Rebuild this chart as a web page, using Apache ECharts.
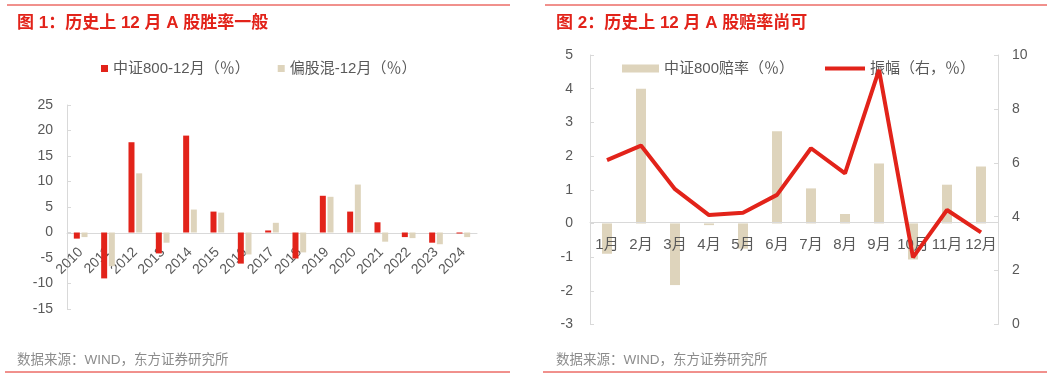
<!DOCTYPE html>
<html>
<head>
<meta charset="utf-8">
<script src="https://cdn.jsdelivr.net/npm/echarts@6/dist/echarts.min.js"></script>
<style>
  html, body { margin: 0; padding: 0; background: #fff; }
  #main { width: 1061px; height: 378px; }
</style>
</head>
<body>
<div id="main"></div>
<script>
// 图1 数据
var years = ['2010', '2011', '2012', '2013', '2014', '2015', '2016', '2017', '2018', '2019', '2020', '2021', '2022', '2023', '2024'];
var csi800Dec = [-1.2, -9.0, 17.7, -4.1, 19.0, 4.1, -6.1, 0.4, -5.1, 7.2, 4.1, 2.0, -0.9, -2.0, -0.2];
var fundDec = [-0.9, -6.6, 11.6, -2.0, 4.5, 3.9, -4.3, 1.9, -3.9, 7.0, 9.4, -1.8, -1.1, -2.3, -0.9];

// 图2 数据
var months = ['1月', '2月', '3月', '4月', '5月', '6月', '7月', '8月', '9月', '10月', '11月', '12月'];
var oddsRate = [-0.9, 4.0, -1.83, -0.05, -0.75, 2.74, 1.04, 0.28, 1.78, -1.07, 1.15, 1.69];
var amplitude = [6.1, 6.64, 5.02, 4.06, 4.15, 4.81, 6.54, 5.61, 9.45, 2.49, 4.25, 3.42];

var RED = '#e2231a';
var BEIGE = '#ded4bc';
var GRAY = '#595959';
var LINE = '#d9d9d9';
var FONT = 'Arial, "Liberation Sans", "Noto Sans CJK SC", sans-serif';

var chart = echarts.init(document.getElementById('main'));

function yAx(gridIndex, opt) {
    var o = {
        type: 'value',
        gridIndex: gridIndex,
        splitLine: { show: false },
        axisLine: { show: true, lineStyle: { color: LINE } },
        axisTick: { show: true, inside: true, length: 4, lineStyle: { color: LINE } },
        axisLabel: { color: GRAY, fontSize: 14, fontFamily: FONT }
    };
    for (var k in opt) o[k] = opt[k];
    return o;
}

// 零轴位置：grid1 底部309 -> 零线233；grid2 底部324.5 -> 零线222.7
var option = {
    animation: false,
    textStyle: { fontFamily: FONT },
    title: [
        { text: '图 1：历史上 12 月 A 股胜率一般', left: 12, top: 10,
          textStyle: { color: RED, fontSize: 17, fontWeight: 'bold', fontFamily: FONT } },
        { text: '图 2：历史上 12 月 A 股赔率尚可', left: 551, top: 10,
          textStyle: { color: RED, fontSize: 17, fontWeight: 'bold', fontFamily: FONT } },
        { text: '数据来源：WIND，东方证券研究所', left: 12, top: 349,
          textStyle: { color: '#8c8c8c', fontSize: 13.5, fontWeight: 'normal', fontFamily: FONT } },
        { text: '数据来源：WIND，东方证券研究所', left: 551, top: 349,
          textStyle: { color: '#8c8c8c', fontSize: 13.5, fontWeight: 'normal', fontFamily: FONT } }
    ],
    legend: [
        { data: ['中证800-12月（％）', '偏股混-12月（％）'], left: 96, top: 56,
          icon: 'rect', itemWidth: 7, itemHeight: 7, itemGap: 28, itemTextGap: 5,
          textStyle: { color: GRAY, fontSize: 15, fontFamily: FONT } },
        { data: ['中证800赔率（％）'], left: 617, top: 56,
          icon: 'rect', itemWidth: 37, itemHeight: 8, itemTextGap: 5,
          textStyle: { color: GRAY, fontSize: 15, fontFamily: FONT } },
        { data: ['振幅（右，％）'], left: 820, top: 56,
          icon: 'rect', itemWidth: 40, itemHeight: 4, itemTextGap: 3,
          textStyle: { color: GRAY, fontSize: 15, fontFamily: FONT } }
    ],
    grid: [
        { left: 67, top: 105, width: 410, height: 204 },
        { left: 590, top: 55, width: 408, height: 269.5 }
    ],
    xAxis: [
        { type: 'category', gridIndex: 0, data: years, offset: -76,
          axisLine: { onZero: false, lineStyle: { color: LINE } },
          axisTick: { inside: true, length: 4, lineStyle: { color: LINE } },
          axisLabel: { rotate: 45, margin: 17, interval: 0, color: GRAY, fontSize: 14, fontFamily: FONT } },
        { type: 'category', gridIndex: 1, data: months, offset: -101.8, z: 5,
          axisLine: { onZero: false, lineStyle: { color: LINE } },
          axisTick: { inside: true, length: 4, lineStyle: { color: LINE } },
          axisLabel: { margin: 15, interval: 0, color: GRAY, fontSize: 15, fontFamily: FONT } }
    ],
    yAxis: [
        yAx(0, { min: -15, max: 25, interval: 5, axisLabel: { color: GRAY, fontSize: 14, fontFamily: FONT, margin: 14 } }),
        yAx(1, { min: -3, max: 5, interval: 1, axisLabel: { color: GRAY, fontSize: 14, fontFamily: FONT, margin: 17 } }),
        yAx(1, { min: 0, max: 10, interval: 2, position: 'right',
                 axisLabel: { color: GRAY, fontSize: 14, fontFamily: FONT, margin: 14 } })
    ],
    series: [
        { name: '中证800-12月（％）', type: 'bar', xAxisIndex: 0, yAxisIndex: 0,
          data: csi800Dec, barWidth: 6, barGap: '28%', itemStyle: { color: RED } },
        { name: '偏股混-12月（％）', type: 'bar', xAxisIndex: 0, yAxisIndex: 0,
          data: fundDec, barWidth: 6, barGap: '28%', itemStyle: { color: BEIGE } },
        { name: '中证800赔率（％）', type: 'bar', xAxisIndex: 1, yAxisIndex: 1,
          data: oddsRate, barWidth: 10, itemStyle: { color: BEIGE } },
        { name: '振幅（右，％）', type: 'line', xAxisIndex: 1, yAxisIndex: 2, z: 6,
          data: amplitude, symbol: 'none', lineStyle: { color: RED, width: 4 },
          itemStyle: { color: RED } }
    ],
    graphic: [
        { type: 'line', shape: { x1: 7, y1: 5, x2: 510, y2: 5 }, style: { stroke: RED, lineWidth: 1 } },
        { type: 'line', shape: { x1: 545, y1: 5, x2: 1047, y2: 5 }, style: { stroke: RED, lineWidth: 1 } },
        { type: 'line', shape: { x1: 5, y1: 372, x2: 510, y2: 372 }, style: { stroke: RED, lineWidth: 1 } },
        { type: 'line', shape: { x1: 543, y1: 372, x2: 1047, y2: 372 }, style: { stroke: RED, lineWidth: 1 } }
    ]
};
chart.setOption(option);
</script>
</body>
</html>
